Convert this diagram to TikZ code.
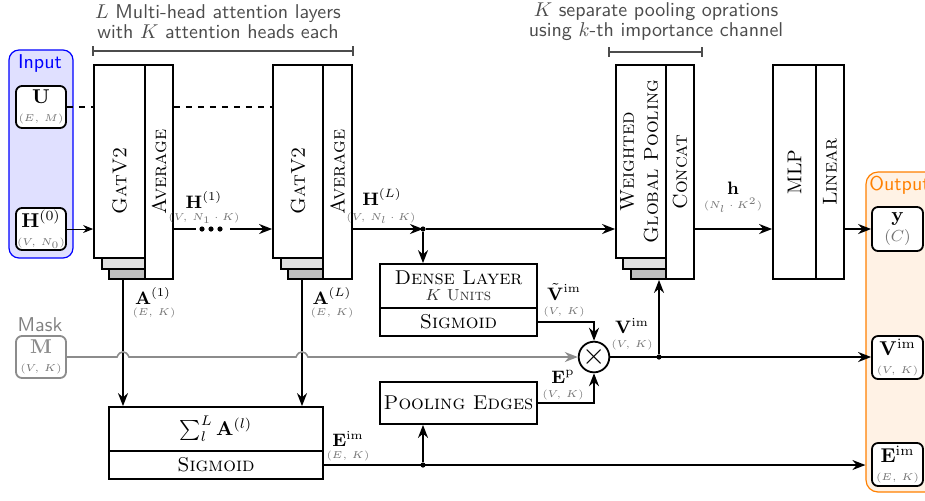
\documentclass[tikz,border=0pt]{standalone}
\usepackage{amsmath}
\usetikzlibrary{calc,arrows.meta}
\newcommand\dimt[1]{{\color{black!55}\fontsize{5}{6}\selectfont$#1$}}
\newcommand\bx[7][]{\node[blk,#1,minimum width={(#5-#3)*0.5pt},minimum height={(#6-#4)*0.5pt}] (#2) at ({(#3+#5)/2},{(#4+#6)/2}) {#7};}
\begin{document}
\begin{tikzpicture}[x=0.5pt,y=-0.5pt,
  blk/.style={draw,line width=0.9pt,fill=white,inner sep=0pt,align=center},
  shl/.style={blk,fill=black!12},
  shd/.style={blk,fill=black!25},
  io/.style={blk,rounded corners=3pt},
  arr/.style={line width=0.9pt,-{Stealth[length=6.5pt,width=5pt]}},
  thinarr/.style={line width=0.5pt,-{Stealth[length=5pt,width=4pt]}},
  lbl/.style={font=\small,inner sep=0pt},
  dimn/.style={inner sep=0pt},
  dot/.style={circle,fill,inner sep=0pt,minimum size=2.6pt},
  brace/.style={draw=black!70,line width=0.7pt},
  toptext/.style={font=\sffamily,text=black!70,align=center,inner sep=0pt},
]
\useasboundingbox (0,0) rectangle (925,500);

% containers
\bx[draw=blue,fill=blue!12,rounded corners=5pt,line width=0.6pt]{inbox}{9}{50}{73}{258}{}
\bx[draw=orange,fill=orange!10,rounded corners=6pt,line width=0.6pt]{outbox}{866}{172}{950}{492}{}
\node[font=\sffamily,text=blue,inner sep=0pt] (inlbl) at (40,63) {Input};
\node[font=\sffamily,text=orange,inner sep=0pt,anchor=west] (outlbl) at (869,185) {Output};
\node[font=\sffamily,text=black!50,inner sep=0pt] (masklbl) at (40,325) {Mask};

% input / output nodes
\bx[io]{U}{16}{86}{66}{128}{$\mathbf{U}$\\[-3pt]\dimt{(E,\,M)}}
\bx[io]{H0}{16}{208}{66}{250}{$\mathbf{H}^{(0)}$\\[-3pt]\dimt{(V,\,N_0)}}
\bx[io,draw=black!45,text=black!45]{M}{16}{336}{66}{378}{$\mathbf{M}$\\[-3pt]\dimt{(V,\,K)}}
\bx[io]{y}{872}{207}{923}{251}{$\mathbf{y}$\\[-2pt]{\color{black!55}\footnotesize$(C)$}}
\bx[io]{Vim}{872}{336}{923}{379}{$\mathbf{V}^{\mathrm{im}}$\\[-3pt]\dimt{(V,\,K)}}
\bx[io]{Eim}{872}{443}{923}{486}{$\mathbf{E}^{\mathrm{im}}$\\[-3pt]\dimt{(E,\,K)}}

% GATv2 block 1
\bx[shd]{d1}{109}{85}{145}{279}{}
\bx[shl]{l1}{102}{75}{145}{269}{}
\bx{g1}{94}{65}{145}{258}{\rotatebox{90}{\textsc{GatV2}\hspace{19.5pt}}}
\bx{a1}{145}{65}{173}{279}{\rotatebox{90}{\textsc{Average}}}
% GATv2 block 2
\bx[shd]{d2}{288}{85}{323}{279}{}
\bx[shl]{l2}{281}{75}{323}{269}{}
\bx{g2}{273}{65}{323}{258}{\rotatebox{90}{\textsc{GatV2}\hspace{19.5pt}}}
\bx{a2}{323}{65}{352}{279}{\rotatebox{90}{\textsc{Average}}}
% pooling block
\bx[shd]{d3}{631}{85}{666}{279}{}
\bx[shl]{l3}{623}{75}{666}{269}{}
\bx{w}{616}{65}{666}{258}{\rotatebox{90}{\begin{tabular}{@{}c@{}}\textsc{Weighted}\\\textsc{Global Pooling}\end{tabular}}}
\bx{c}{666}{65}{694}{279}{\rotatebox{90}{\textsc{Concat}}}
% MLP
\bx{mlp}{773}{65}{816}{279}{\rotatebox{90}{MLP}}
\bx{lin}{816}{65}{844}{279}{\rotatebox{90}{\textsc{Linear}}}
% middle boxes
\bx{dense}{380}{264}{537}{308}{\textsc{Dense Layer}\\[-4pt]{\footnotesize\color{black!80}$K$ \textsc{Units}}}
\bx{densesig}{380}{308}{537}{336}{\textsc{Sigmoid}}
\bx{pool}{380}{382}{537}{424}{\textsc{Pooling Edges}}
\bx{sum}{109}{407}{323}{451}{$\sum_l^L \mathbf{A}^{(l)}$}
\bx{sumsig}{109}{451}{323}{479}{\textsc{Sigmoid}}
\node[draw,circle,line width=0.9pt,minimum size=14pt,inner sep=0pt,fill=white] (circ) at (594,357) {\scalebox{1.5}{$\times$}};

% braces and top texts
\draw[brace] ($(g1.north west)+(0,-13)$) -- ($(a2.north east)+(0,-13)$);
\draw[brace] ($(g1.north west)+(0,-18)$) -- ($(g1.north west)+(0,-8)$);
\draw[brace] ($(a2.north east)+(0,-18)$) -- ($(a2.north east)+(0,-8)$);
\node[toptext] (t1) at (218,22) {$L$ Multi-head attention layers\\[-2pt]with $K$ attention heads each};
\draw[brace] (609,52) -- (702,52);
\draw[brace] (609,47) -- (609,57);
\draw[brace] (702,47) -- (702,57);
\node[toptext] (t2) at (656,22) {$K$ separate pooling oprations\\[-2pt]using $k$-th importance channel};

% junction dots
\node[dot] (jH) at (423,229) {};
\node[dot] (jE) at (423,465) {};
\node[dot] (jV) at (659,357) {};
\node[dot] (m1) at (202,229) {};
\node[dot] (m2) at (211,229) {};
\node[dot] (m3) at (220,229) {};

% connectors
\draw[line width=0.9pt,dashed] (U.east) -- (U.east -| g1.west);
\draw[line width=0.9pt,dashed] (U.east -| a1.east) -- (U.east -| g2.west);
\draw[thinarr] (H0.east) -- (H0.east -| g1.west);
\draw[line width=0.9pt] (H0.east -| a1.east) -- ($(m1)+(-6,0)$);
\draw[arr] ($(m3)+(10,0)$) -- (H0.east -| g2.west);
\draw[arr] (jH -| a2.east) -- (jH.center);
\draw[arr] (jH) -- (jH -| w.west);
\draw[arr] (jH) -- (jH |- dense.north);
\draw[arr] (jH -| c.east) -- (jH -| mlp.west);
\draw[arr] (jH -| lin.east) -- (jH -| y.west);

\coordinate (x1) at ([xshift=-2pt]d1.south);
\coordinate (x2) at ([xshift=-1.75pt]d2.south);
\draw[arr] (x1) -- (x1 |- sum.north);
\draw[arr] (x2) -- (x2 |- sum.north);
\coordinate (k1) at (x1 |- M.east);
\coordinate (k2) at (x2 |- M.east);
\draw[black!45,line width=0.8pt,-{Stealth[length=6.5pt,width=5pt]}] (M.east) -- ($(k1)+(-6,0)$) .. controls ($(k1)+(-3,-7)$) and ($(k1)+(3,-7)$) .. ($(k1)+(6,0)$) -- ($(k2)+(-6,0)$) .. controls ($(k2)+(-3,-7)$) and ($(k2)+(3,-7)$) .. ($(k2)+(6,0)$) -- (circ.west);

\draw[arr] (densesig.east) -| (circ.north);
\draw[arr] (pool.east) -| (circ.south);
\draw[arr] (circ.east) -- (circ.east -| Vim.west);
\draw[arr] (jV) -- ([xshift=5.25pt]d3.south);
\draw[arr] (sumsig.east) -- (sumsig.east -| outbox.west);
\draw[arr] (jE) -- (jE |- pool.south);

% labels
\node[lbl] at (204,200) {$\mathbf{H}^{(1)}$};
\node[dimn] at (204,218) {\dimt{(V,\,N_1\cdot K)}};
\node[lbl] at (382,197) {$\mathbf{H}^{(L)}$};
\node[dimn] at (381,218) {\dimt{(V,\,N_l\cdot K)}};
\node[lbl] at (153,296) {$\mathbf{A}^{(1)}$};
\node[dimn] at (154,313) {\dimt{(E,\,K)}};
\node[lbl] at (332,296) {$\mathbf{A}^{(L)}$};
\node[dimn] at (332,313) {\dimt{(E,\,K)}};
\node[lbl] at (348,439) {$\mathbf{E}^{\mathrm{im}}$};
\node[dimn] at (348,456) {\dimt{(E,\,K)}};
\node[lbl] at (564,292) {$\tilde{\mathbf{V}}^{\mathrm{im}}$};
\node[dimn] at (564,312) {\dimt{(V,\,K)}};
\node[lbl] at (632,326) {$\mathbf{V}^{\mathrm{im}}$};
\node[dimn] at (632,345) {\dimt{(V,\,K)}};
\node[lbl] at (563,377) {$\mathbf{E}^{\mathrm{p}}$};
\node[dimn] at (563,395) {\dimt{(V,\,K)}};
\node[lbl] at (733,188) {$\mathbf{h}$};
\node[dimn] at (733,205) {\dimt{(N_l\cdot K^2)}};
\end{tikzpicture}
\end{document}
